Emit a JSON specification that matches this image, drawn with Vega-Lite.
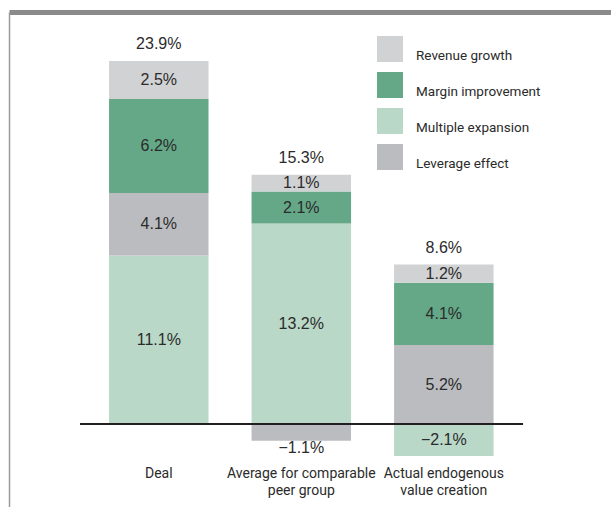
{
  "$schema": "https://vega.github.io/schema/vega-lite/v6.json",
  "width": 602,
  "height": 495,
  "autosize": {"type": "none"},
  "padding": {"left": 9, "top": 12, "right": 0, "bottom": 0},
  "background": "white",
  "datasets": {
    "segments": [
      {"bar": "Deal", "component": "Multiple expansion", "value": 0.111},
      {"bar": "Deal", "component": "Leverage effect", "value": 0.041},
      {"bar": "Deal", "component": "Margin improvement", "value": 0.062},
      {"bar": "Deal", "component": "Revenue growth", "value": 0.025},
      {"bar": "Average", "component": "Multiple expansion", "value": 0.132},
      {"bar": "Average", "component": "Leverage effect", "value": -0.011},
      {"bar": "Average", "component": "Margin improvement", "value": 0.021},
      {"bar": "Average", "component": "Revenue growth", "value": 0.011},
      {"bar": "Actual", "component": "Multiple expansion", "value": -0.021},
      {"bar": "Actual", "component": "Leverage effect", "value": 0.052},
      {"bar": "Actual", "component": "Margin improvement", "value": 0.041},
      {"bar": "Actual", "component": "Revenue growth", "value": 0.012}
    ],
    "bars": [
      {"bar": "Deal", "total": 0.239, "label": ["Deal"]},
      {"bar": "Average", "total": 0.153, "label": ["Average for comparable", "peer group"]},
      {"bar": "Actual", "total": 0.086, "label": ["Actual endogenous", "value creation"]}
    ]
  },
  "data": {"name": "segments"},
  "layer": [
    {
      "transform": [{"stack": "value", "groupby": ["bar"], "as": ["y0", "y1"], "offset": "zero"}],
      "mark": {"type": "bar", "strokeWidth": 0},
      "encoding": {
        "x": {
          "field": "bar", "type": "nominal",
          "scale": {"domain": ["Deal", "Average", "Actual"], "paddingInner": 0.302, "paddingOuter": 0.763, "align": 0.46},
          "axis": {"orient": "top", "labels": false, "ticks": false, "title": null, "domain": true, "domainColor": "#8a8a8a", "domainWidth": 5, "grid": false}
        },
        "y": {
          "field": "y0", "type": "quantitative",
          "scale": {"domain": [-0.0546, 0.2712], "nice": false, "zero": false},
          "axis": {"orient": "left", "labels": false, "ticks": false, "title": null, "domain": true, "domainColor": "#9a9a9a", "domainWidth": 1.5, "grid": false}
        },
        "y2": {"field": "y1"},
        "color": {
          "field": "component", "type": "nominal",
          "scale": {
            "domain": ["Revenue growth", "Margin improvement", "Multiple expansion", "Leverage effect"],
            "range": ["#d1d2d4", "#64a887", "#b9d8c8", "#bbbcc0"]
          },
          "legend": {
            "orient": "none", "legendX": 368, "legendY": 24, "title": null,
            "symbolType": "square", "symbolSize": 676, "symbolStrokeWidth": 0, "symbolOpacity": 1,
            "labelFont": "Roboto", "labelFontSize": 13.5, "labelColor": "#2b2b2b",
            "labelBaseline": "top", "labelOffset": 13, "rowPadding": 9, "padding": 0, "offset": 0
          }
        }
      }
    },
    {
      "transform": [
        {"stack": "value", "groupby": ["bar"], "as": ["y0", "y1"], "offset": "zero"},
        {"filter": "!(datum.value < 0 && datum.value > -0.015)"},
        {"calculate": "(datum.y0 + datum.y1) / 2", "as": "mid"}
      ],
      "mark": {"type": "text", "font": "Liberation Sans", "fontSize": 16, "color": "#2b2b2b", "baseline": "middle"},
      "encoding": {
        "x": {"field": "bar", "type": "nominal"},
        "y": {"field": "mid", "type": "quantitative"},
        "text": {"field": "value", "type": "quantitative", "format": ".1%"}
      }
    },
    {
      "transform": [
        {"stack": "value", "groupby": ["bar"], "as": ["y0", "y1"], "offset": "zero"},
        {"filter": "datum.value < 0 && datum.value > -0.015"},
        {"calculate": "min(datum.y0, datum.y1)", "as": "bottom"}
      ],
      "mark": {"type": "text", "font": "Liberation Sans", "fontSize": 16, "color": "#2b2b2b", "baseline": "top", "dy": -1},
      "encoding": {
        "x": {"field": "bar", "type": "nominal"},
        "y": {"field": "bottom", "type": "quantitative"},
        "text": {"field": "value", "type": "quantitative", "format": ".1%"}
      }
    },
    {
      "transform": [
        {"filter": "datum.value > 0"},
        {"aggregate": [{"op": "sum", "field": "value", "as": "top"}], "groupby": ["bar"]},
        {"lookup": "bar", "from": {"data": {"name": "bars"}, "key": "bar", "fields": ["total"]}}
      ],
      "mark": {"type": "text", "font": "Liberation Sans", "fontSize": 16, "color": "#2b2b2b", "baseline": "alphabetic", "dy": -12},
      "encoding": {
        "x": {"field": "bar", "type": "nominal"},
        "y": {"field": "top", "type": "quantitative"},
        "text": {"field": "total", "type": "quantitative", "format": ".1%"}
      }
    },
    {
      "data": {"name": "bars"},
      "mark": {"type": "text", "font": "Roboto", "fontSize": 14, "color": "#2b2b2b", "baseline": "alphabetic", "lineHeight": 17},
      "encoding": {
        "x": {"field": "bar", "type": "nominal"},
        "y": {"datum": -0.0354, "type": "quantitative"},
        "text": {"field": "label"}
      }
    },
    {
      "mark": {"type": "rule", "color": "#231f20", "strokeWidth": 2},
      "encoding": {
        "x": {"datum": "Deal", "type": "nominal", "bandPosition": -0.291},
        "x2": {"datum": "Actual", "bandPosition": 1.296},
        "y": {"datum": 0, "type": "quantitative"}
      }
    }
  ],
  "config": {
    "view": {"stroke": null},
    "axis": {"grid": false}
  }
}
